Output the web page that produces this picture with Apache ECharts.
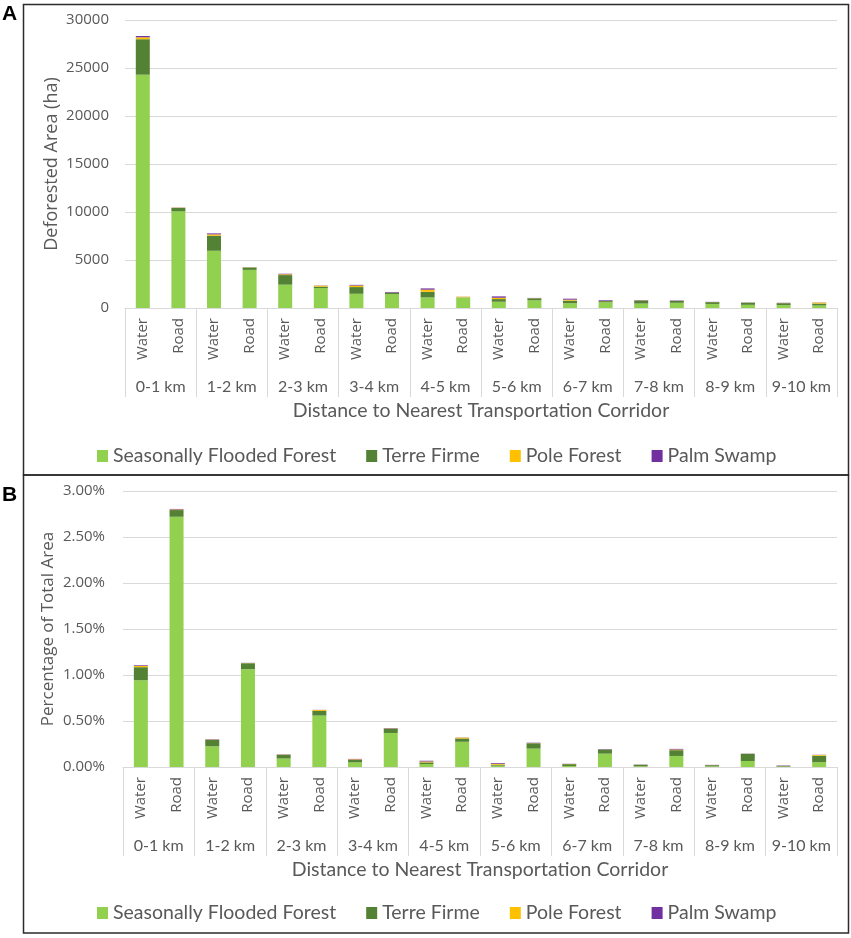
<!DOCTYPE html>
<html>
<head>
<meta charset="utf-8">
<script src="https://cdn.jsdelivr.net/npm/echarts@6/dist/echarts.min.js"></script>
<style>
  html, body { margin: 0; padding: 0; background: #fff; }
  #chart { width: 851px; height: 938px; }
</style>
</head>
<body>
<div id="chart"></div>
<script>
// ---- Data ----
const groups = ['0-1 km', '1-2 km', '2-3 km', '3-4 km', '4-5 km', '5-6 km', '6-7 km', '7-8 km', '8-9 km', '9-10 km'];
const corridors = ['Water', 'Road', 'Water', 'Road', 'Water', 'Road', 'Water', 'Road', 'Water', 'Road',
                   'Water', 'Road', 'Water', 'Road', 'Water', 'Road', 'Water', 'Road', 'Water', 'Road'];
const seriesNames = ['Seasonally Flooded Forest', 'Terre Firme', 'Pole Forest', 'Palm Swamp'];

// Panel A: deforested area (ha)
const sffA = [24300, 10070, 5960, 3970, 2430, 2080, 1480, 1450, 1100, 1080, 650, 800, 500, 600, 460, 540, 420, 330, 300, 260];
const tfA  = [3700, 350, 1570, 250, 1000, 150, 700, 150, 590, 30, 280, 210, 270, 120, 320, 200, 190, 220, 200, 200];
const pfA  = [200, 30, 140, 20, 80, 100, 160, 10, 220, 60, 140, 20, 100, 10, 20, 10, 10, 10, 10, 100];
const psA  = [130, 20, 100, 10, 60, 20, 70, 60, 130, 10, 140, 20, 100, 70, 30, 40, 20, 20, 30, 20];

// Panel B: percentage of total area (%)
const sffB = [0.943, 2.72, 0.225, 1.063, 0.092, 0.559, 0.05, 0.37, 0.032, 0.274, 0.015, 0.20, 0.011, 0.145, 0.008, 0.12, 0.008, 0.065, 0.005, 0.052];
const tfB  = [0.142, 0.073, 0.07, 0.065, 0.04, 0.05, 0.026, 0.047, 0.018, 0.036, 0.01, 0.058, 0.02, 0.045, 0.016, 0.063, 0.012, 0.078, 0.007, 0.071];
const pfB  = [0.014, 0.006, 0.003, 0.002, 0.003, 0.01, 0.007, 0.003, 0.01, 0.009, 0.01, 0.002, 0.002, 0.001, 0.001, 0.007, 0.001, 0.001, 0.001, 0.008];
const psB  = [0.007, 0.006, 0.004, 0.002, 0.003, 0.002, 0.005, 0.004, 0.008, 0.002, 0.008, 0.004, 0.002, 0.004, 0.002, 0.007, 0.002, 0.002, 0.004, 0.002];

const yTicksA = [0, 5000, 10000, 15000, 20000, 25000, 30000];
const yTicksB = [0, 0.5, 1, 1.5, 2, 2.5, 3];

// ---- Styles ----
const colors = ['#92D050', '#548235', '#FFC000', '#7030A0'];
const textColor = '#595959';
const gridColor = '#d9d9d9';
const tickFont = 'Open Sans';
const calFont = 'Lato';

const chart = echarts.init(document.getElementById('chart'), null, { renderer: 'canvas' });

function xAxesFor(gridIndex) {
  return [
    {
      type: 'category', gridIndex: gridIndex, data: corridors, position: 'bottom',
      axisLine: { show: true, lineStyle: { color: gridColor, width: 1 } },
      axisTick: { show: false },
      axisLabel: { rotate: 90, interval: 0, margin: 10, color: textColor, fontFamily: tickFont, fontSize: 15 }
    },
    {
      type: 'category', gridIndex: gridIndex, data: groups, position: 'bottom', offset: 0,
      axisLine: { show: false },
      axisTick: { show: true, length: 89, interval: 0, lineStyle: { color: gridColor, width: 1 } },
      axisLabel: { interval: 0, margin: 71, color: textColor, fontFamily: calFont, fontSize: 16 },
      name: 'Distance to Nearest Transportation Corridor', nameLocation: 'middle', nameGap: 93,
      nameMoveOverlap: false,
      nameTextStyle: { color: textColor, fontFamily: calFont, fontSize: 19.5 }
    }
  ];
}

function seriesFor(gridIndex, arrays, stack) {
  return arrays.map((arr, i) => ({
    name: seriesNames[i], type: 'bar', stack: stack,
    xAxisIndex: gridIndex * 2, yAxisIndex: gridIndex,
    barWidth: 14, data: arr,
    itemStyle: { color: colors[i] },
    emphasis: { disabled: true }
  }));
}

const legendCommon = {
  data: seriesNames, left: 92, icon: 'rect', itemWidth: 11, itemHeight: 12, itemGap: 30,
  textStyle: { color: textColor, fontFamily: calFont, fontSize: 19.5 }
};

const option = {
  animation: false,
  backgroundColor: '#fff',
  grid: [
    { left: 125, right: 14, top: 20, height: 288 },
    { left: 123, right: 14, top: 491, height: 276 }
  ],
  xAxis: [...xAxesFor(0), ...xAxesFor(1)],
  yAxis: [
    {
      type: 'value', gridIndex: 0, min: 0, max: yTicksA[yTicksA.length - 1], interval: yTicksA[1] - yTicksA[0],
      axisLine: { show: false }, axisTick: { show: false },
      axisLabel: { color: textColor, fontFamily: tickFont, fontSize: 15, margin: 16, formatter: v => String(v) },
      splitLine: { lineStyle: { color: gridColor, width: 1 } },
      name: 'Deforested Area (ha)', nameLocation: 'middle', nameRotate: 90, nameGap: 64,
      nameMoveOverlap: false,
      nameTextStyle: { color: textColor, fontFamily: tickFont, fontSize: 18 }
    },
    {
      type: 'value', gridIndex: 1, min: 0, max: yTicksB[yTicksB.length - 1], interval: yTicksB[1] - yTicksB[0],
      axisLine: { show: false }, axisTick: { show: false },
      axisLabel: { color: textColor, fontFamily: tickFont, fontSize: 15, margin: 18,
                   formatter: v => v.toFixed(2) + '%' },
      splitLine: { lineStyle: { color: gridColor, width: 1 } },
      name: 'Percentage of Total Area', nameLocation: 'middle', nameRotate: 90, nameGap: 66,
      nameMoveOverlap: false,
      nameTextStyle: { color: textColor, fontFamily: tickFont, fontSize: 17 }
    }
  ],
  legend: [
    Object.assign({}, legendCommon, { top: 441 }),
    Object.assign({}, legendCommon, { top: 898 })
  ],
  series: [
    ...seriesFor(0, [sffA, tfA, pfA, psA], 'A'),
    ...seriesFor(1, [sffB, tfB, pfB, psB], 'B')
  ],
  graphic: [
    { type: 'rect', shape: { x: 23.5, y: 4.5, width: 825, height: 470.5 }, style: { fill: 'none', stroke: '#2b2b2b', lineWidth: 1.5 }, silent: true },
    { type: 'rect', shape: { x: 23.5, y: 475, width: 825, height: 458 }, style: { fill: 'none', stroke: '#2b2b2b', lineWidth: 1.5 }, silent: true },
    { type: 'text', left: 2, top: 4, style: { text: 'A', fill: '#000', font: 'bold 21px "Liberation Sans", Arial, sans-serif' }, silent: true },
    { type: 'text', left: 2, top: 485, style: { text: 'B', fill: '#000', font: 'bold 21px "Liberation Sans", Arial, sans-serif' }, silent: true }
  ]
};

chart.setOption(option);
</script>
</body>
</html>
